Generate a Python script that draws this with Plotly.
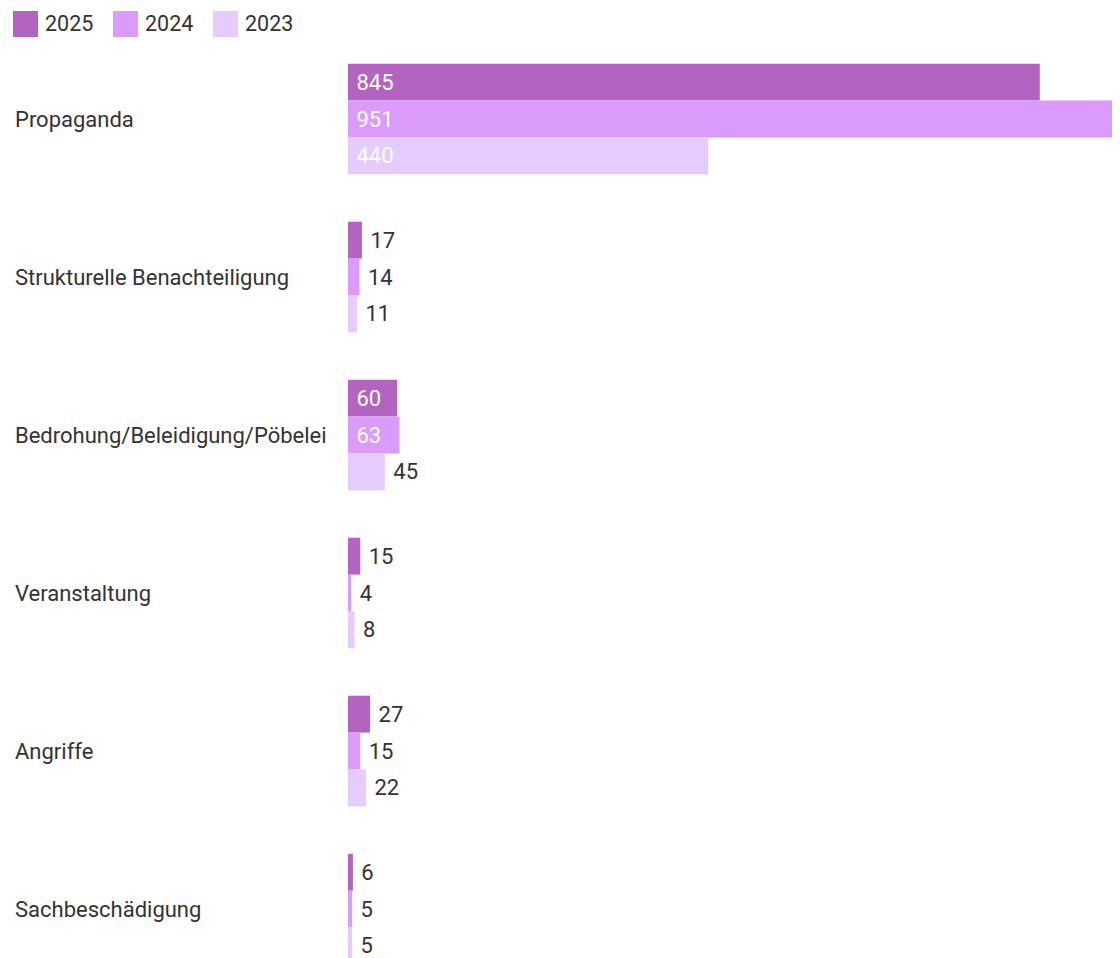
import plotly.graph_objects as go

categories = ["Propaganda", "Strukturelle Benachteiligung", "Bedrohung/Beleidigung/Pöbelei",
              "Veranstaltung", "Angriffe", "Sachbeschädigung"]
series_names = ["2025", "2024", "2023"]
values_2025 = [845, 17, 60, 15, 27, 6]
values_2024 = [951, 14, 63, 4, 15, 5]
values_2023 = [440, 11, 45, 8, 22, 5]
series_values = [values_2025, values_2024, values_2023]
colors = ["#B364C0", "#DA9BFA", "#E6CBFF"]

# page offset (body margin) compensation
OFF = 8
W, H = 1120 - OFF, 958 - OFF
ML, MR, MT, MB = 348 - OFF, 0, 40 - OFF, 0
PW, PH = W - ML - MR, H - MT - MB
FONT = "Roboto"
NB = "\u00a0"

fig = go.Figure()
for name, vals, col in zip(series_names, series_values, colors):
    pos = ["inside" if v >= 50 else "outside" for v in vals]
    fig.add_trace(go.Bar(
        y=categories, x=vals, name=name, orientation="h",
        marker=dict(color=col, line=dict(width=0)),
        text=[NB + str(v) for v in vals],
        textposition=pos,
        insidetextanchor="start",
        insidetextfont=dict(color="white", size=22, family=FONT),
        outsidetextfont=dict(color="#333333", size=22, family=FONT),
        constraintext="none",
        cliponaxis=True,
        showlegend=False,
        hoverinfo="x+y",
    ))

annotations = []
for c in categories:
    annotations.append(dict(
        x=(15 - OFF - 2 - ML) / PW, xref="paper", y=c, yref="y",
        text=c, showarrow=False, xanchor="left", yanchor="middle",
        font=dict(size=22, color="#333333", family=FONT),
    ))

shapes = []
leg_x = [13, 113, 213]
for name, col, lx in zip(series_names, colors, leg_x):
    fx = lx - OFF
    shapes.append(dict(
        type="rect", xref="paper", yref="paper",
        x0=(fx - ML) / PW, x1=(fx + 25 - ML) / PW,
        y0=(H - MB - (37 - OFF)) / PH, y1=(H - MB - (11 - OFF)) / PH,
        fillcolor=col, line=dict(width=0),
    ))
    annotations.append(dict(
        x=(fx + 30 - ML) / PW, xref="paper", y=(H - MB - (24 - OFF)) / PH, yref="paper",
        text=name, showarrow=False, xanchor="left", yanchor="middle",
        font=dict(size=21.5, color="#333333", family=FONT),
    ))

fig.update_layout(
    width=W, height=H,
    margin=dict(l=ML, r=MR, t=MT, b=MB),
    barmode="group", bargap=0.3, bargroupgap=0,
    plot_bgcolor="white", paper_bgcolor="white",
    font=dict(family=FONT, size=22, color="#333333"),
    xaxis=dict(range=[0, 943], showgrid=False, zeroline=False, showticklabels=False,
               showline=False, ticks=""),
    yaxis=dict(range=[5.31, -0.5], showgrid=False, zeroline=False, showticklabels=False,
               showline=False, ticks=""),
    annotations=annotations, shapes=shapes,
    showlegend=False,
)

fig.write_html(
    "out.html",
    post_script="document.documentElement.style.overflow='hidden';document.body.style.overflow='hidden';",
)
